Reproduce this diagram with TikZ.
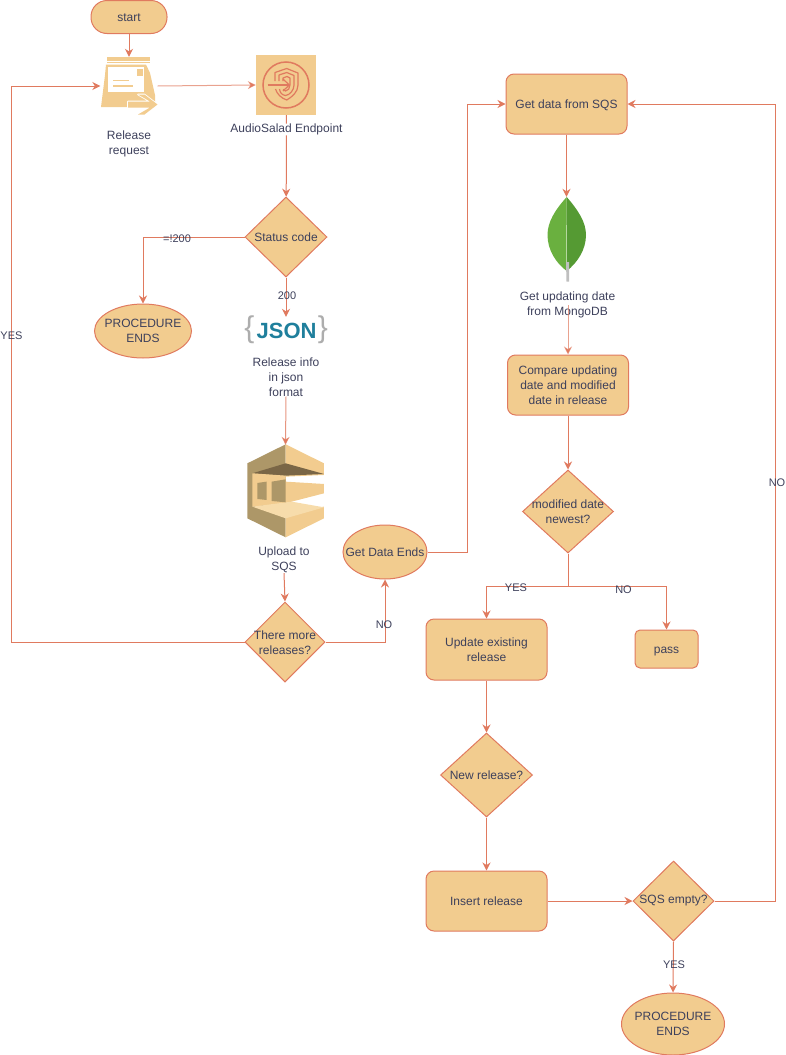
\documentclass[tikz,border=0pt]{standalone}
\usepackage{fontspec}
\setmainfont{Liberation Sans}
\usepackage{xcolor}
\usetikzlibrary{arrows.meta, shapes.geometric}

\definecolor{lineorange}{HTML}{E07A5F}
\definecolor{fillsand}{HTML}{F2CC8F}
\definecolor{textnavy}{HTML}{3D405B}
\definecolor{sqsdark}{HTML}{7A6646}
\definecolor{sqstan}{HTML}{AD9768}
\definecolor{sqslight}{HTML}{F7DCAB}
\definecolor{jsonteal}{HTML}{1F7F9C}
\definecolor{leafleft}{HTML}{6AB03F}
\definecolor{leafright}{HTML}{559A33}

\tikzset{
  base/.style={draw=lineorange,fill=fillsand,text=textnavy,line width=1pt,align=center,inner sep=0pt},
  box/.style={base,rectangle,rounded corners=8pt},
  pill/.style={base,rectangle,rounded corners=16pt},
  oval/.style={base,ellipse},
  decision/.style={base,diamond},
  icon/.style={rectangle,inner sep=0pt},
  label/.style={text=textnavy,align=center,inner sep=0pt},
  edgelabel/.style={label,font=\fontsize{11}{13}\selectfont},
  oneline/.style={text height=11pt,text depth=3pt},
  link/.style={draw=lineorange,line width=1pt,-{Stealth[length=8pt,width=8pt]}},
  plain/.style={draw=lineorange,line width=1pt},
  emblem/.style={draw=lineorange,line width=1.2pt,line join=round}
}

\begin{document}
\begin{tikzpicture}[x=1pt,y=-1pt,font=\fontsize{12}{15}\selectfont]
\useasboundingbox (0,0) rectangle (786,1055);

\node[pill,oneline,minimum width=76pt,minimum height=33pt] (start) at (129,17) {start};
\node[icon,minimum width=57pt,minimum height=58pt] (request) at (129,86) {};
\node[label] (requesttxt) at (129,144) {Release\\request};
\node[icon,minimum width=60pt,minimum height=60pt] (endpoint) at (286,85) {};
\node[label] (endpointtxt) at (286.5,129.5) {AudioSalad Endpoint};
\node[decision,minimum width=82pt,minimum height=80pt] (status) at (286,237) {};
\node[label] at (status) {Status code};
\node[oval,minimum width=97pt,minimum height=54pt] (endsleft) at (143,331) {};
\node[label] at (endsleft) {PROCEDURE\\ENDS};
\node[icon,minimum width=82pt,minimum height=28pt] (json) at (286,331) {};
\node[label] (jsontxt) at (286,377) {Release info\\in json\\format};
\node[icon,minimum width=77pt,minimum height=92pt] (sqs) at (285.5,491) {};
\node[label] (sqstxt) at (284,560) {Upload to\\SQS};
\node[decision,minimum width=80pt,minimum height=80pt] (more) at (285,642) {};
\node[label] at (285,642.7) {There more\\releases?};
\node[oval,minimum width=84pt,minimum height=54pt] (dataends) at (385,552) {};
\node[label,oneline] at (dataends) {Get Data Ends};

\node[box,oneline,minimum width=121pt,minimum height=60pt] (getdata) at (566.5,104) {Get data from SQS};
\node[icon,minimum width=40pt,minimum height=85pt] (leaf) at (566.5,239.5) {};
\node[label] (leaftxt) at (567.5,305) {Get updating date\\from MongoDB};
\node[box,minimum width=121pt,minimum height=60pt] (compare) at (568,385) {Compare updating\\date and modified\\date in release};
\node[decision,minimum width=91pt,minimum height=83pt] (modified) at (568,511.5) {};
\node[label] at (modified) {modified date\\newest?};
\coordinate (fork) at (568,586);
\node[box,minimum width=121pt,minimum height=61pt] (update) at (486.5,649.5) {Update existing\\release};
\node[box,oneline,rounded corners=5pt,minimum width=63pt,minimum height=38pt] (pass) at (666.5,649) {pass};
\node[decision,minimum width=92pt,minimum height=84pt] (newrel) at (486.5,775) {};
\node[label] at (newrel) {New release?};
\node[box,oneline,minimum width=121pt,minimum height=60pt] (insert) at (486.5,901) {Insert release};
\node[decision,minimum width=81pt,minimum height=80pt] (empty) at (673.5,901) {};
\node[label] at (empty) {SQS empty?};
\node[oval,minimum width=103pt,minimum height=62pt] (endsright) at (673,1024) {};
\node[label] at (endsright) {PROCEDURE\\ENDS};

\fill[fillsand] (106.5,56.5) rectangle (150,60.5);
\draw[fillsand,line width=1.4pt] (107,62.7) -- (149.5,62.7);
\fill[fillsand] (101,107) -- (105,75) -- (106,64.5) -- (146,64.5) -- (150,73) -- (155,95) -- (155,107) -- cycle;
\fill[white] (108.3,66.7) rectangle (144,91.7);
\fill[fillsand] (136.7,69) rectangle (142.7,75.7);
\fill[fillsand] (113.3,79.5) rectangle (129,81.3);
\fill[fillsand] (113.3,85) rectangle (133.3,86.8);
\draw[white,line width=1.6pt,line join=round] (138,94.5) -- (144.5,94.5) -- (157.5,104.5) -- (144.5,114.5) -- (138,114.5) -- (150,107.5) -- (128,107.5) -- (128,101.5) -- (150,101.5) -- cycle;
\fill[fillsand] (138,94.5) -- (144.5,94.5) -- (157.5,104.5) -- (144.5,114.5) -- (138,114.5) -- (150,107.5) -- (128,107.5) -- (128,101.5) -- (150,101.5) -- cycle;

\fill[fillsand] (endpoint.north west) rectangle (endpoint.south east);
\draw[lineorange,line width=1.5pt] (endpoint) circle (23);
\draw[emblem] (275,81) -- (275,72.5) -- (286.7,68.5) -- (298,73) -- (298,85) .. controls (298,92) and (292,97) .. (286.7,100) .. controls (281,98) and (277,94) .. (275.5,89);
\draw[emblem] (279,81) -- (279,75) -- (286.7,72.5) -- (294,75.5) -- (294,85) .. controls (294,90) and (290,95) .. (285.5,95.5) .. controls (282,95) and (280,93) .. (279.5,89);
\draw[emblem] (283,81) -- (283,78) -- (287,76.5) -- (290,78) -- (290,85) .. controls (290,88) and (288,91) .. (285.5,91) .. controls (284.5,91) and (283.5,90.5) .. (283,89.5);
\draw[emblem] (267.5,85) -- (289,85);
\draw[emblem] (283,79) -- (289.3,85) -- (283,91);

\node[text=black!32,font=\fontsize{30}{30}\selectfont,inner sep=0pt] (jsonopen) at (249.5,330) {\{};
\node[text=black!32,font=\fontsize{30}{30}\selectfont,inner sep=0pt] (jsonclose) at (323,330) {\}};
\node[text=jsonteal,font=\fontsize{22}{22}\selectfont\bfseries,inner sep=0pt] (jsonword) at (286.6,331) {JSON};

\begin{scope}[shift={(220,300)},x=0.3333pt,y=-0.3333pt]
\fill[sqstan] (197,433) -- (82,490) -- (82,655) -- (197,712) -- cycle;
\fill[fillsand] (197,433) -- (312,490) -- (312,525) -- (197,530) -- cycle;
\fill[fillsand] (197,712) -- (312,655) -- (312,620) -- (197,640) -- cycle;
\fill[sqsdark] (97,520) -- (197,490) -- (312,522) -- (197,527) -- cycle;
\fill[fillsand] (97,520) -- (197,527) -- (197,545) -- (312,552) -- (312,580) -- (215,605) -- (197,610) -- (97,620) -- cycle;
\fill[sqslight] (97,620) -- (215,605) -- (312,622) -- (197,655) -- cycle;
\fill[sqstan] (112,549) -- (140,545) -- (140,600) -- (112,597) -- cycle;
\fill[sqstan] (155,545) -- (197,538) -- (197,607) -- (155,603) -- cycle;
\end{scope}

\fill[leafleft] (566.7,197) .. controls (555,210) and (547.5,222) .. (547.5,235) .. controls (547.5,250) and (556,263) .. (566.7,271) -- cycle;
\fill[leafright] (566.7,197) .. controls (578,210) and (586,222) .. (586,235) .. controls (586,250) and (577,263) .. (566.7,271) -- cycle;
\fill[leafleft!50!white] (566.2,225) rectangle (567.2,262);
\fill[black!25] (566,262) -- (569,262) -- (569,281.5) -- (566.5,281.5) -- cycle;

\draw[link] (start) -- (request);
\draw[link,draw opacity=0.7] (request.east) -- (endpoint.west);
\draw[plain] (endpoint) -- (endpointtxt);
\draw[link] (endpointtxt) -- (status);
\draw[link] (status.west) -| (endsleft.north);
\draw[link] (status.south) -- (json.north);
\draw[link,draw opacity=0.8] (jsontxt.south) -- (sqs.north);
\draw[link] (sqstxt.south) -- (more.north);
\draw[link] (more.west) -- (11,642) -- (11,86) -- (request.west);
\draw[link] (more.east) -| (dataends.south);
\draw[link] (dataends.east) -- (467,552) -- (467,104) -- (getdata.west);
\draw[link] (getdata.south) -- (leaf.north);
\draw[link,draw opacity=0.7] (compare.north |- leaftxt.center) -- (compare.north);
\draw[link] (compare.south) -- (modified.north);
\draw[plain] (modified.south) -- (fork);
\draw[link] (fork) -| (update.north);
\draw[link] (fork) -| (pass.north);
\draw[link] (update.south) -- (newrel.north);
\draw[link] (newrel.south) -- (insert.north);
\draw[link] (insert.east) -- (empty.west);
\draw[link] (empty.south) -- (endsright.north);
\draw[link] (empty.east) -- (775,901) -- (775,104) -- (getdata.east);

\node[edgelabel] (lblnot) at (177,238.5) {=!200};
\node[edgelabel] (lblok) at (287,295.5) {200};
\node[edgelabel] (lblyesleft) at (11.5,335.5) {YES};
\node[edgelabel] (lblnomore) at (384,624.5) {NO};
\node[edgelabel] (lblyesnew) at (516,587.5) {YES};
\node[edgelabel] (lblnonew) at (623.5,589.5) {NO};
\node[edgelabel] (lblnoempty) at (777,482.5) {NO};
\node[edgelabel] (lblyesempty) at (674,964.5) {YES};
\end{tikzpicture}
\end{document}
